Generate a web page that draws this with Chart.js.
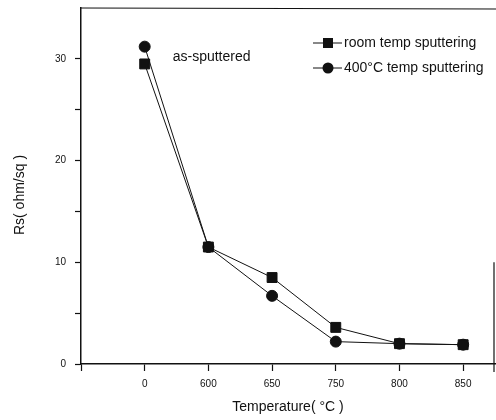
<!DOCTYPE html>
<html>
<head>
<meta charset="utf-8">
<script src="https://cdn.jsdelivr.net/npm/chart.js@4.4.1/dist/chart.umd.min.js"></script>
<style>
  html,body{margin:0;padding:0;background:#fff;}
  #wrap{width:496px;height:420px;}
</style>
</head>
<body>
<div id="wrap"><canvas id="c" width="496" height="420"></canvas></div>
<script>
// Sheet resistance vs anneal temperature
const categories = ['0', '600', '650', '750', '800', '850'];
const roomTemp   = [29.5, 11.5, 8.5, 3.6, 2.0, 1.9];
const hotTemp    = [31.2, 11.5, 6.7, 2.2, 2.0, 1.9];
const yTicks     = [0, 5, 10, 15, 20, 25, 30];
const yLabelled  = [0, 10, 20, 30];

const FONT = '"Liberation Sans", Arial, sans-serif';
const INK = '#111';

const toPts = arr => arr.map((v,i)=>({x:i, y:v}));

// annotation, legend, frame and axis titles
const decor = {
  id:'decor',
  afterDraw(chart){
    const {ctx, chartArea:a, scales:{x,y}} = chart;
    ctx.save();
    ctx.strokeStyle = INK; ctx.lineWidth = 1.2;
    // top frame + the part of the right frame that survives
    ctx.beginPath(); ctx.moveTo(a.left, a.top); ctx.lineTo(496, a.top+1); ctx.stroke();
    ctx.beginPath(); ctx.moveTo(494, y.getPixelForValue(10)); ctx.lineTo(494, a.bottom+8); ctx.stroke();

    ctx.fillStyle = INK;
    ctx.font = '14px ' + FONT;
    ctx.textBaseline = 'middle';
    ctx.textAlign = 'left';
    ctx.fillText('as-sputtered', x.getPixelForValue(0)+28, y.getPixelForValue(30.2));

    // legend
    const rows = [
      {label:'room temp sputtering', style:'rect', yy:43},
      {label:'400\u00B0C temp sputtering', style:'circle', yy:68}
    ];
    rows.forEach(r=>{
      ctx.lineWidth = 1;
      ctx.beginPath(); ctx.moveTo(313, r.yy); ctx.lineTo(342, r.yy); ctx.stroke();
      if(r.style==='rect'){ ctx.fillRect(323, r.yy-5, 10, 10); }
      else { ctx.beginPath(); ctx.arc(328, r.yy, 5.5, 0, Math.PI*2); ctx.fill(); }
      ctx.fillText(r.label, 344, r.yy);
    });

    // axis titles
    ctx.textAlign = 'center';
    ctx.fillText('Temperature( \u00B0C )', 288, 407);
    ctx.translate(20, 195); ctx.rotate(-Math.PI/2);
    ctx.fillText('Rs( ohm/sq )', 0, 0);
    ctx.restore();
  }
};

new Chart(document.getElementById('c'), {
  type:'line',
  data:{
    datasets:[
      {label:'room temp sputtering', data:toPts(roomTemp), borderColor:INK, backgroundColor:INK,
       borderWidth:1, pointStyle:'rect', pointRadius:7, tension:0},
      {label:'400\u00B0C temp sputtering', data:toPts(hotTemp), borderColor:INK, backgroundColor:INK,
       borderWidth:1, pointStyle:'circle', pointRadius:5.5, tension:0}
    ]
  },
  options:{
    responsive:false, animation:false,
    layout:{autoPadding:false, padding:{top:8, right:1, left:0, bottom:0}},
    plugins:{legend:{display:false}, tooltip:{enabled:false}},
    scales:{
      x:{
        type:'linear', min:-1, max:5.5,
        afterBuildTicks:s=>{ s.ticks = [-1,0,1,2,3,4,5].map(v=>({value:v})); },
        afterFit:s=>{ s.height = 56; s.paddingLeft = 0; s.paddingRight = 0; },
        grid:{drawOnChartArea:false, drawTicks:true, tickLength:7, color:INK, tickWidth:1.2},
        border:{display:true, color:INK, width:1.5},
        ticks:{color:INK, padding:7, maxRotation:0, font:{family:FONT, size:10},
               callback:v=> v>=0 ? categories[v] : ''}
      },
      y:{
        type:'linear', min:0, max:35,
        afterBuildTicks:s=>{ s.ticks = yTicks.map(v=>({value:v})); },
        afterFit:s=>{ s.width = 81; s.paddingTop = 0; s.paddingBottom = 0; },
        grid:{drawOnChartArea:false, drawTicks:true, tickLength:6, color:INK, tickWidth:1.2},
        border:{display:true, color:INK, width:1.5},
        ticks:{color:INK, padding:9, font:{family:FONT, size:10},
               callback:v=> yLabelled.includes(v) ? String(v) : ''}
      }
    }
  },
  plugins:[decor]
});
</script>
</body>
</html>
